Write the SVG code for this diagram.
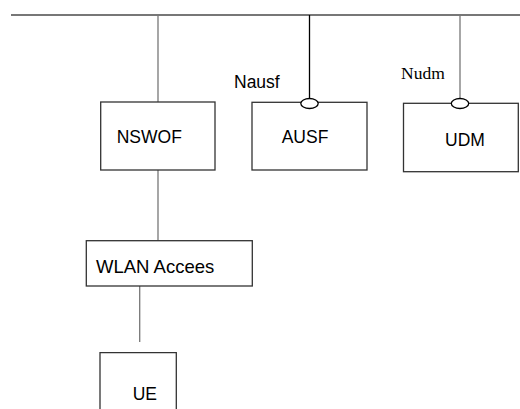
<svg xmlns="http://www.w3.org/2000/svg" width="520" height="409" viewBox="0 0 520 409">
<style>
.box{fill:#fff;stroke:#333;stroke-width:1.3}
.ln{stroke:#777;stroke-width:1.3;fill:none}
.t{font-family:"Liberation Sans",Arial,sans-serif;font-size:17.5px;fill:#000}
.s{font-family:"Liberation Serif","Times New Roman",serif;font-size:17.5px;fill:#000}
.ifc{fill:#fff;stroke:#000;stroke-width:1.3}
</style>
<rect width="520" height="409" fill="#fff"/>
<g id="connectors">
<line class="ln" x1="11" y1="15" x2="520" y2="15" style="stroke-width:2"/>
<line class="ln" x1="158" y1="15" x2="158" y2="102"/>
<line x1="309.5" y1="15" x2="309.5" y2="98.5" stroke="#000" stroke-width="1.3"/>
<line class="ln" x1="460" y1="16" x2="460" y2="98.5"/>
<line class="ln" x1="158" y1="170" x2="158" y2="241"/>
<line class="ln" x1="139.7" y1="286" x2="139.7" y2="342"/>
</g>
<g id="NSWOF">
<rect class="box" x="100.7" y="102" width="114.3" height="68"/>
<text class="t" x="116.7" y="143.3">NSWOF</text>
</g>
<g id="AUSF">
<rect class="box" x="252" y="102.3" width="115" height="67.7"/>
<text class="t" x="281.7" y="143.3">AUSF</text>
<ellipse class="ifc" cx="309.5" cy="103.5" rx="8.7" ry="5"/>
<text class="t" x="234" y="87.7">Nausf</text>
</g>
<g id="UDM">
<rect class="box" x="403.5" y="103.3" width="114.8" height="68.4"/>
<text class="t" x="445" y="146">UDM</text>
<ellipse class="ifc" cx="460" cy="103.5" rx="8.7" ry="5"/>
<text class="s" x="401" y="79">Nudm</text>
</g>
<g id="WLAN">
<rect class="box" x="86.3" y="240.7" width="166" height="45.3"/>
<text class="t" x="96" y="272.7" style="font-size:18.5px">WLAN Accees</text>
</g>
<g id="UE">
<path class="box" d="M100 409 V352.7 H176.3 V409"/>
<text class="t" x="132.7" y="400">UE</text>
</g>
</svg>
